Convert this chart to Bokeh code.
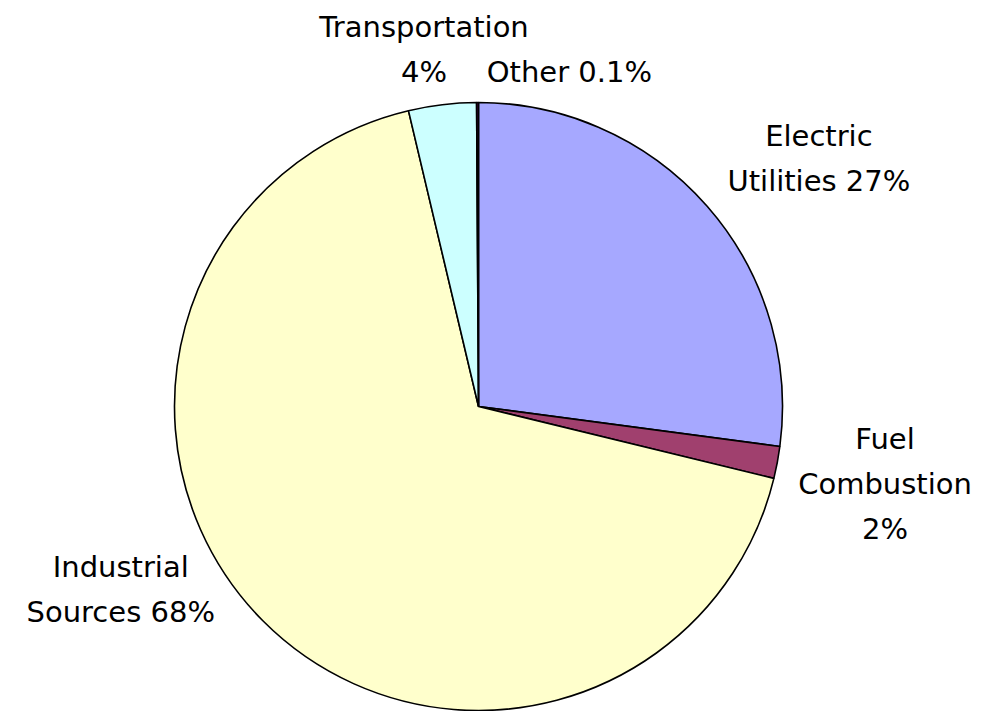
import math
from bokeh.plotting import figure
from bokeh.models import Range1d, ColumnDataSource
from bokeh.core.properties import value
from bokeh.embed import file_html
from bokeh.resources import INLINE

# ---- data ----
categories = ["Electric Utilities", "Fuel Combustion", "Industrial Sources", "Transportation", "Other"]
shares = [27.1, 1.7, 67.5, 3.6, 0.1]
labels = ["Electric\nUtilities 27%", "Fuel\nCombustion\n2%", "Industrial\nSources 68%", "Transportation\n4%", "Other 0.1%"]
colors = ["#A6A8FF", "#A0406E", "#FFFFCC", "#CCFFFF", "#660066"]

# ---- layout / style ----
W, H = 982, 711
CX, CY = 478, H - 406      # pie centre (data units = pixels)
R = 304                    # pie radius in pixels
LABEL_R = 1.2 * R
# per-label nudges (pixels; +x right, +y up)
nudges = [(66, 8), (48, -10), (-99, 74), (-11, -5), (92, -30)]

total = sum(shares)
starts, ends, lx, ly = [], [], [], []
cum = 0.0
for s, (nx, ny) in zip(shares, nudges):
    a0 = cum / total * 2 * math.pi
    cum += s
    a1 = cum / total * 2 * math.pi
    starts.append(math.pi / 2 - a0)
    ends.append(math.pi / 2 - a1)
    mid = (a0 + a1) / 2
    lx.append(CX + LABEL_R * math.sin(mid) + nx)
    ly.append(CY + LABEL_R * math.cos(mid) + ny)

src = ColumnDataSource(dict(cat=categories, start=starts, end=ends, color=colors,
                            x=[CX] * len(shares), y=[CY] * len(shares)))
lsrc = ColumnDataSource(dict(x=lx, y=ly, text=labels))

p = figure(width=W, height=H, x_range=Range1d(0, W), y_range=Range1d(0, H),
           output_backend="svg", toolbar_location=None, min_border=0)
p.axis.visible = False
p.grid.visible = False
p.outline_line_color = None
p.background_fill_color = "white"

p.wedge(x="x", y="y", radius=R, radius_units="screen", start_angle="start", end_angle="end",
        direction="clock", fill_color="color", line_color="black", line_width=1.6, source=src)

p.text(x="x", y="y", text="text", source=lsrc, text_align="center", text_baseline="middle",
       text_font=value("DejaVu Sans"), text_font_size="29px", text_color="black",
       text_line_height=1.33)

open("out.html", "w").write(file_html(p, INLINE))
